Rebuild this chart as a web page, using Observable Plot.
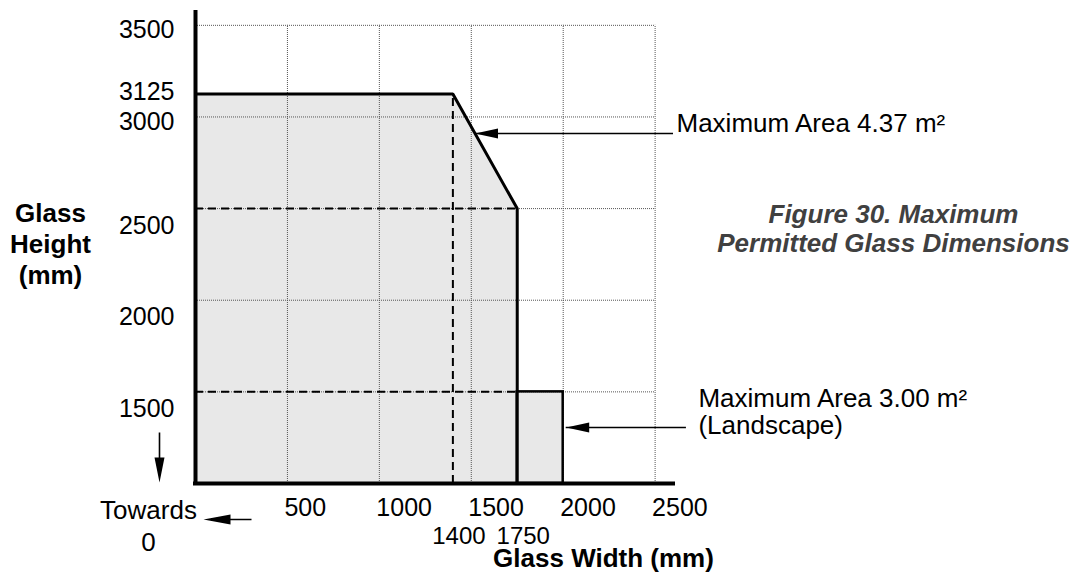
<!DOCTYPE html>
<html><head><meta charset="utf-8">
<script src="https://cdn.jsdelivr.net/npm/d3@7"></script>
<script src="https://cdn.jsdelivr.net/npm/@observablehq/plot@0.6"></script>
<style>html,body{margin:0;padding:0;background:#fff;} #chart{width:1079px;height:572px;overflow:hidden}</style>
</head><body><div id="chart"></div>
<script>
// ---- data (mm) ----
const gridWidths = [500, 1000, 1500, 2000, 2500];
const gridHeights = [1500, 2000, 2500, 3000, 3500];
const xTickLabels = [500, 1000, 1500, 2000, 2500];
const xExtraLabels = [1400, 1750];
const yTickLabelsUpper = [3000, 3500];
const yTickLabelsLower = [1500, 2000, 2500];
const yExtraLabels = [3125];
const portraitWidth = [0, 1400, 1750, 1750];
const portraitHeight = [3125, 3125, 2500, 1000];
const landscapeWidth = [1750, 2000];
const landscapeHeight = [1000, 1500];
const areaLabels = ["Maximum Area 4.37 m\u00b2", "Maximum Area 3.00 m\u00b2\n(Landscape)"];
const axisEnd = {width: 2600, height: 3570};

const portrait = portraitWidth.map((w, i) => ({w, h: portraitHeight[i]}));
const base = portraitHeight[portraitHeight.length - 1];
const corner = portrait[1];          // (1400, 3125)
const knee = portrait[2];            // (1750, 2500)
// annotation point on the sloping edge
const tArrow = (corner.h - 2910) / (corner.h - knee.h);
const slopePoint = {w: corner.w + tArrow * (knee.w - corner.w), h: 2910};
const landscapePoint = {w: landscapeWidth[1], h: 1305};

const FONT = "Liberation Sans, Arial, Helvetica, sans-serif";
const headLeft = {draw(ctx) { ctx.moveTo(0, 0); ctx.lineTo(23, -5); ctx.lineTo(23, 5); ctx.closePath(); }};
const fullLeft = {draw(ctx) { ctx.moveTo(0, 0); ctx.lineTo(27, -5); ctx.lineTo(27, 5); ctx.closePath(); ctx.rect(26, -0.8, 22, 1.6); }};
const fullDown = {draw(ctx) { ctx.moveTo(0, 0); ctx.lineTo(-5, -25); ctx.lineTo(5, -25); ctx.closePath(); ctx.rect(-0.8, -50, 1.6, 26); }};

const yLabel = (data, dy) => Plot.text(data, {x: 0, y: d => d, text: d => String(d), textAnchor: "end", lineAnchor: "middle", dx: -21, dy, fontSize: 25});

const chart = Plot.plot({
  width: 1079, height: 572,
  marginLeft: 195, marginRight: 406, marginTop: 12, marginBottom: 89,
  style: {fontFamily: FONT, fontSize: "25px", background: "#fff", color: "#000"},
  x: {domain: [0, axisEnd.width], axis: null},
  y: {domain: [base, axisEnd.height], axis: null},
  marks: [
    // fills
    Plot.areaY(portrait, {x: "w", y1: base, y2: "h", fill: "#e8e8e8"}),
    Plot.rect([0], {x1: landscapeWidth[0], x2: landscapeWidth[1], y1: landscapeHeight[0], y2: landscapeHeight[1], fill: "#e8e8e8"}),
    // dotted grid
    Plot.ruleX(gridWidths, {y1: base, y2: gridHeights[gridHeights.length - 1], stroke: "#555", strokeWidth: 1, strokeDasharray: "1,1"}),
    Plot.ruleY(gridHeights, {x1: 0, x2: gridWidths[gridWidths.length - 1], stroke: "#555", strokeWidth: 1, strokeDasharray: "1,1"}),
    // dashed construction lines
    Plot.ruleX([corner.w], {y1: base, y2: corner.h, stroke: "#000", strokeWidth: 2, strokeDasharray: "8,5"}),
    Plot.ruleY([knee.h, landscapeHeight[1]], {x1: 0, x2: knee.w, stroke: "#000", strokeWidth: 2, strokeDasharray: "8,5"}),
    // outlines
    Plot.line(portrait, {x: "w", y: "h", stroke: "#000", strokeWidth: 3, strokeLinejoin: "miter"}),
    Plot.rect([0], {x1: landscapeWidth[0], x2: landscapeWidth[1], y1: landscapeHeight[0], y2: landscapeHeight[1], fill: "none", stroke: "#000", strokeWidth: 2.5}),
    // axes
    Plot.ruleX([0], {y1: base, y2: axisEnd.height, stroke: "#000", strokeWidth: 4, strokeLinecap: "square"}),
    Plot.ruleY([base], {x1: 0, x2: axisEnd.width, stroke: "#000", strokeWidth: 4, strokeLinecap: "square"}),
    // tick labels
    yLabel(yTickLabelsUpper, 5),
    yLabel(yTickLabelsLower, 17),
    yLabel(yExtraLabels, -2),
    Plot.text(xTickLabels, {x: d => d, y: base, text: d => String(d), textAnchor: "start", lineAnchor: "middle", dx: -3, dy: 24, fontSize: 25}),
    Plot.text(xExtraLabels, {x: d => d, y: base, text: d => String(d), textAnchor: "middle", lineAnchor: "middle", dx: 6, dy: 53, fontSize: 24}),
    // axis titles
    Plot.text(["Glass\nHeight\n(mm)"], {frameAnchor: "left", text: d => d, dx: -145, dy: -5, textAnchor: "middle", lineAnchor: "middle", lineHeight: 1.2, fontSize: 26, fontWeight: "bold"}),
    Plot.text(["Glass Width (mm)"], {frameAnchor: "bottom", text: d => d, dx: 169, dy: 75, textAnchor: "middle", lineAnchor: "middle", fontSize: 26, fontWeight: "bold", fill: "#000", stroke: "#fff", strokeWidth: 4, paintOrder: "stroke"}),
    Plot.text(["Towards\n0"], {frameAnchor: "bottom-left", text: d => d, dx: -47, dy: 41, textAnchor: "middle", lineAnchor: "middle", lineHeight: 1.25, fontSize: 26}),
    Plot.dot([0], {frameAnchor: "bottom-left", dx: 8, dy: 36, symbol: fullLeft, r: 5, fill: "#000", stroke: "none"}),
    Plot.dot([0], {frameAnchor: "bottom-left", dx: -36, dy: -1, symbol: fullDown, r: 5, fill: "#000", stroke: "none"}),
    // annotation arrows
    Plot.ruleY([slopePoint], {x1: "w", x2: axisEnd.width, y: "h", stroke: "#000", strokeWidth: 1.5}),
    Plot.dot([slopePoint], {x: "w", y: "h", symbol: headLeft, r: 5, fill: "#000", stroke: "none"}),
    Plot.text([slopePoint], {x: axisEnd.width, y: "h", text: () => areaLabels[0], textAnchor: "start", lineAnchor: "middle", dx: 3, dy: -10, fontSize: 26}),
    Plot.ruleY([landscapePoint], {x1: "w", x2: 2654, y: "h", dx: 3, stroke: "#000", strokeWidth: 1.5}),
    Plot.dot([landscapePoint], {x: "w", y: "h", dx: 3, symbol: headLeft, r: 5, fill: "#000", stroke: "none"}),
    Plot.text([landscapePoint], {x: 2654, y: "h", text: () => areaLabels[1], textAnchor: "start", lineAnchor: "top", lineHeight: 1.04, dx: 15, dy: -40, fontSize: 26}),
    // figure caption
    Plot.text(["Figure 30. Maximum\nPermitted Glass Dimensions"], {frameAnchor: "right", text: d => d, dx: 220, dy: -20, textAnchor: "middle", lineAnchor: "middle", lineHeight: 1.12, fontSize: 26, fontWeight: "bold", fontStyle: "italic", fill: "#404040"})
  ]
});
document.getElementById("chart").append(chart);
</script>
</body></html>
